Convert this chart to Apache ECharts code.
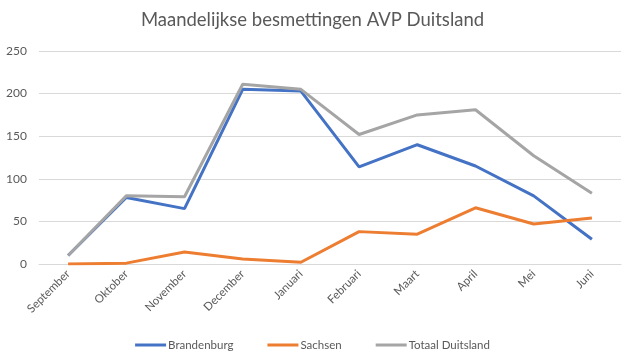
<!DOCTYPE html>
<html><head><meta charset="utf-8">
<script src="https://cdn.jsdelivr.net/npm/echarts@6/dist/echarts.min.js"></script>
<style>html,body{margin:0;padding:0;background:#fff}#c{width:625px;height:357px}</style>
</head><body><div id="c"></div>
<script>
var categories = ['September','Oktober','November','December','Januari','Februari','Maart','April','Mei','Juni'];
var brandenburg = [10, 78, 65, 205, 203, 114, 140, 115, 80, 29];
var sachsen = [0, 1, 14, 6, 2, 38, 35, 66, 47, 54];
var totaal = [10, 80, 79, 211, 205, 152, 175, 181, 127, 83];
var seriesNames = ['Brandenburg', 'Sachsen', 'Totaal Duitsland'];
var colors = ['#4472C4', '#ED7D31', '#A5A5A5'];
var dataSets = [brandenburg, sachsen, totaal];

var font = 'Lato, "Open Sans", sans-serif';
var chart = echarts.init(document.getElementById('c'));
chart.setOption({
  animation: false,
  color: colors,
  title: {
    text: 'Maandelijkse besmettingen AVP Duitsland',
    left: 'center', top: 6,
    textStyle: {fontFamily: font, fontSize: 18.5, fontWeight: 'normal', color: '#595959'}
  },
  legend: {
    bottom: 1, left: 'center',
    itemWidth: 31, itemHeight: 3, itemGap: 34,
    icon: 'rect',
    textStyle: {fontFamily: font, fontSize: 11.5, color: '#595959', padding: [0,0,0,-3]},
    data: seriesNames
  },
  grid: {left: 39, right: 4, top: 51, bottom: 93},
  xAxis: {
    type: 'category', data: categories, boundaryGap: true,
    axisLine: {show: true, lineStyle: {color: '#D9D9D9'}},
    axisTick: {show: false},
    axisLabel: {rotate: 45, fontFamily: font, fontSize: 11.5, color: '#595959', margin: 8, interval: 0}
  },
  yAxis: {
    type: 'value', min: 0, max: 250, interval: 50,
    axisLine: {show: false}, axisTick: {show: false},
    splitLine: {lineStyle: {color: '#D9D9D9'}},
    axisLabel: {fontFamily: font, fontSize: 12, color: '#595959', margin: 12}
  },
  series: dataSets.map(function (d, i) {
    return {
      name: seriesNames[i], type: 'line', data: d,
      showSymbol: false, symbol: 'none',
      lineStyle: {width: 3, color: colors[i]},
      itemStyle: {color: colors[i]}
    };
  })
});
</script></body></html>
